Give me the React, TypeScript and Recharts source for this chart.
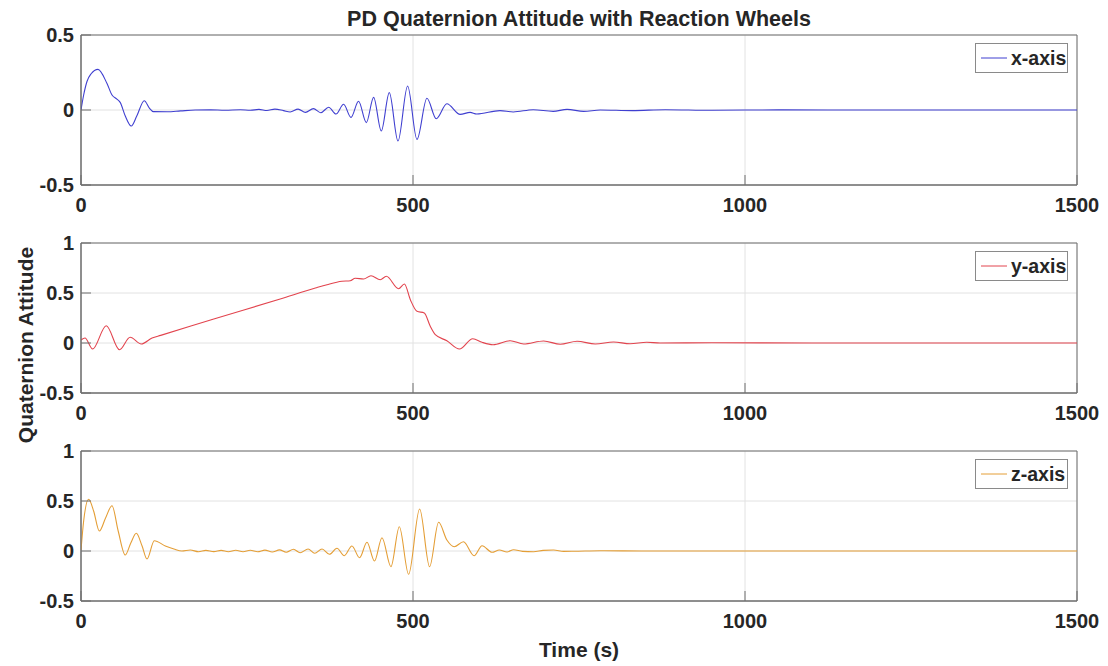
import { LineChart, Line, XAxis, YAxis, CartesianGrid, ReferenceArea, Legend } from 'recharts';

// x-axis quaternion component
const X_TIME = [
  0, 4, 9, 15, 25.6, 39, 46.7, 54, 59, 66.7, 75.7, 84, 95.3, 103, 109, 130, 150, 172, 195, 217, 240, 255, 268,
  280, 292, 305, 315, 327, 338, 350, 361, 373, 384, 395.5, 406.6, 418, 429.7, 440.7, 452.2, 464.3, 477.4, 491.9,
  506, 521, 535, 551, 571, 586, 596, 631, 651, 681, 711, 732, 757, 782, 830, 880, 950, 1050, 1200, 1500,
];
const X_VALUE = [
  0, 0.1, 0.19, 0.24, 0.271, 0.178, 0.1, 0.073, 0.051, -0.04, -0.107, -0.04, 0.062, 0.013, -0.011, -0.012, -0.006,
  0, 0.001, -0.002, 0.002, -0.002, 0.004, -0.003, 0.006, -0.004, -0.013, 0.006, -0.016, 0.009, -0.018, 0.018,
  -0.027, 0.038, -0.049, 0.058, -0.084, 0.084, -0.14, 0.116, -0.207, 0.16, -0.196, 0.078, -0.058, 0.042, -0.029,
  -0.016, -0.027, -0.004, -0.013, 0.002, -0.009, 0.004, -0.009, 0, -0.004, 0.002, -0.002, 0.001, 0, 0,
];

// y-axis quaternion component
const Y_TIME = [
  0, 6, 17.5, 38, 58, 74, 90.8, 107, 120, 200, 300, 353, 370.5, 393, 405.6, 413, 425.6, 436.7, 450.7, 459.8,
  478.3, 487, 496, 506, 517, 526, 533.6, 551, 570, 590, 604, 620.5, 646.5, 666.6, 696.7, 721.8, 747, 774.5, 802,
  827, 852, 872, 950, 1100, 1500,
];
const Y_VALUE = [
  0.03, 0.05, -0.06, 0.173, -0.067, 0.057, -0.01, 0.05, 0.076, 0.24, 0.44, 0.55, 0.583, 0.617, 0.623, 0.647, 0.64,
  0.673, 0.633, 0.667, 0.543, 0.59, 0.433, 0.317, 0.3, 0.167, 0.083, 0.023, -0.06, 0.043, 0.007, -0.017, 0.023,
  -0.01, 0.02, -0.013, 0.017, -0.01, 0.01, -0.007, 0.007, 0, 0.003, 0, 0,
];

// z-axis quaternion component
const Z_TIME = [
  0, 4, 11.5, 19, 27.6, 37, 46.7, 56, 66.7, 75, 83.3, 92, 99.4, 110.4, 127, 140, 152, 164.6, 177, 188, 200, 211,
  222, 233, 244, 255, 266, 277, 288, 299, 309, 320, 330, 342, 352, 363, 374, 385.5, 396.5, 408, 419.6, 430.7, 442,
  453.3, 466.8, 479.4, 493.4, 510, 525, 538.6, 551, 562, 576, 592, 604, 619, 630, 641.6, 651.5, 665, 681.6, 696,
  711.7, 727, 741.8, 782, 850, 1500,
];
const Z_VALUE = [
  0.01, 0.3, 0.517, 0.4, 0.2, 0.33, 0.453, 0.2, -0.04, 0.08, 0.177, 0.05, -0.08, 0.103, 0.05, 0.02, 0, 0.01,
  -0.007, 0.006, -0.006, 0.006, -0.007, 0.007, -0.007, 0.008, -0.008, 0.009, -0.01, 0.011, -0.013, 0.017, -0.017,
  0.02, -0.023, 0.02, -0.033, 0.027, -0.047, 0.05, -0.067, 0.087, -0.1, 0.133, -0.157, 0.243, -0.233, 0.42,
  -0.157, 0.287, 0.11, 0.043, 0.093, -0.047, 0.053, -0.013, 0.01, -0.01, 0.013, -0.004, -0.007, 0.006, 0.01,
  -0.004, -0.003, 0.003, 0, 0,
];

const TIME_TICKS = [0, 500, 1000, 1500];
const TOP_TICKS = [-0.5, 0, 0.5];
const LOWER_TICKS = [-0.5, 0, 0.5, 1];

const FONT = '"Liberation Sans", Arial, sans-serif';
const INK = '#262626';
const FRAME = '#6e6e6e';

const toRows = (time: number[], value: number[]) => time.map((t, i) => ({ t, v: value[i] }));

const legendBox = (label: string, color: string) => () => (
  <div
    style={{
      width: 91,
      height: 28,
      border: '1px solid #8a8a8a',
      background: '#fff',
      display: 'flex',
      alignItems: 'center',
      fontFamily: FONT,
    }}
  >
    <svg width={35} height={28}>
      <line x1={5} x2={31} y1={14} y2={14} stroke={color} strokeWidth={1} />
    </svg>
    <span style={{ fontWeight: 'bold', fontSize: 19.5, color: INK, lineHeight: '28px' }}>{label}</span>
  </div>
);

type PanelProps = {
  rows: { t: number; v: number }[];
  color: string;
  label: string;
  domain: [number, number];
  ticks: number[];
  top: number;
};

// every panel: plot box from y=35 to y=185 inside its own chart, x from 81 to 1077
const Panel = ({ rows, color, label, domain, ticks, top }: PanelProps) => (
  <div style={{ position: 'absolute', left: 0, top }}>
    <LineChart width={1108} height={228} data={rows} margin={{ top: 35, right: 31, bottom: 0, left: 0 }}>
      <CartesianGrid stroke="#e2e2e2" />
      <XAxis
        type="number"
        dataKey="t"
        domain={[0, 1500]}
        ticks={TIME_TICKS}
        allowDataOverflow
        height={43}
        stroke={FRAME}
        tickSize={-10}
        tickMargin={23}
        tick={{ fill: INK, fontSize: 20, fontWeight: 'bold', fontFamily: FONT }}
      />
      <YAxis
        type="number"
        domain={domain}
        ticks={ticks}
        allowDataOverflow
        width={81}
        stroke={FRAME}
        tickSize={-10}
        tickMargin={17}
        tick={{ fill: INK, fontSize: 20, fontWeight: 'bold', fontFamily: FONT }}
      />
      <ReferenceArea x1={0} x2={1500} y1={domain[0]} y2={domain[1]} fill="none" stroke={FRAME} strokeWidth={1} />
      <Line type="monotone" dataKey="v" stroke={color} strokeWidth={1.1} dot={false} isAnimationActive={false} />
      <Legend
        layout="horizontal"
        verticalAlign="middle"
        content={legendBox(label, color)}
        wrapperStyle={{ top: 43, left: 975, width: 93, height: 30 }}
      />
    </LineChart>
  </div>
);

export default function App() {
  return (
    <div
      style={{
        position: 'absolute',
        left: 0,
        top: 0,
        width: 1108,
        height: 666,
        background: '#fff',
        fontFamily: FONT,
        color: INK,
        overflow: 'hidden',
      }}
    >
      <Panel rows={toRows(X_TIME, X_VALUE)} color="#3f3fd0" label="x-axis" domain={[-0.5, 0.5]} ticks={TOP_TICKS} top={0} />
      <Panel rows={toRows(Y_TIME, Y_VALUE)} color="#e2444e" label="y-axis" domain={[-0.5, 1]} ticks={LOWER_TICKS} top={208} />
      <Panel rows={toRows(Z_TIME, Z_VALUE)} color="#e49e36" label="z-axis" domain={[-0.5, 1]} ticks={LOWER_TICKS} top={416} />

      <div
        style={{
          position: 'absolute',
          left: 81,
          width: 996,
          top: 5,
          textAlign: 'center',
          fontSize: 21.5,
          fontWeight: 'bold',
          lineHeight: '28px',
        }}
      >
        PD Quaternion Attitude with Reaction Wheels
      </div>
      <div
        style={{
          position: 'absolute',
          left: 26,
          top: 345,
          transform: 'translate(-50%, -50%) rotate(-90deg)',
          whiteSpace: 'nowrap',
          fontSize: 21,
          fontWeight: 'bold',
          lineHeight: '24px',
        }}
      >
        Quaternion Attitude
      </div>
      <div
        style={{
          position: 'absolute',
          left: 81,
          width: 996,
          top: 637,
          textAlign: 'center',
          fontSize: 21,
          fontWeight: 'bold',
          lineHeight: '26px',
        }}
      >
        Time (s)
      </div>
    </div>
  );
}
